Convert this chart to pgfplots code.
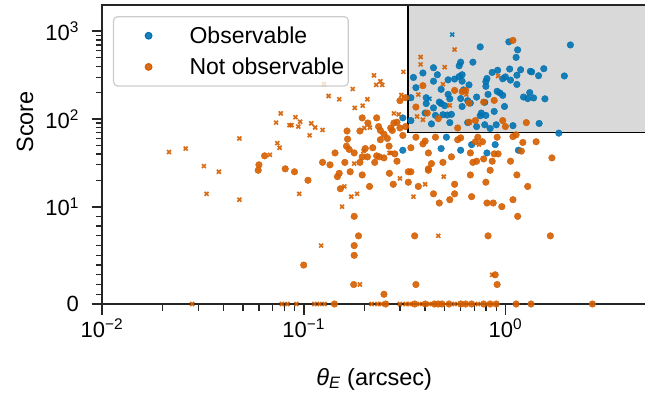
\documentclass[border=0pt]{standalone}
\usepackage{fontspec}
\setmainfont{Liberation Sans}
\usepackage{pgfplots}
\pgfplotsset{compat=1.18}
\definecolor{cbblue}{HTML}{0173B2}
\definecolor{cborange}{HTML}{D55E00}
\definecolor{spine}{HTML}{262626}
\definecolor{boxgray}{HTML}{D9D9D9}
\definecolor{leggray}{HTML}{CCCCCC}
\newcommand{\tp}[1]{10\textsuperscript{#1}}
\begin{document}
\begin{tikzpicture}
\begin{axis}[
  at={(0pt,0pt)}, anchor=south west,
  scale only axis, width=544.4pt, height=299pt,
  xmode=log, xmin=0.01, xmax=5, ymin=0, ymax=2000,
  y coord trafo/.code={\pgfmathparse{#1<=10 ? #1/9 : 1.111111+ln(max(#1,10)/10)/2.302585}},
  ytick={0,10,100,1000}, yticklabels={0,\tp{1},\tp{2},\tp{3}},
  minor ytick={1,2,3,4,5,6,7,8,9,20,30,40,50,60,70,80,90,200,300,400,500,600,700,800,900},
  xtick={0.01,0.1,1}, xticklabels={\tp{−2},\tp{−1},\tp{0}},
  font=\fontsize{23.5}{28}\selectfont,
  tick label style={font=\fontsize{22}{26}\selectfont},
  yticklabel style={xshift=-9pt},
  xticklabel style={yshift=-1pt},
  tick pos=left, tick align=outside,
  major tick length=10.5pt, minor tick length=6.5pt,
  every major tick/.append style={line width=1.8pt, spine},
  every minor tick/.append style={line width=1.3pt, spine},
  axis line style={line width=1.9pt, spine},
  axis on top,
  clip=true,
  xlabel={\textit{θ}\textsubscript{\textit{E}} (arcsec)},
  ylabel={Score},
  xlabel style={at={(rel axis cs:0.5,-0.251)}, anchor=center},
  ylabel style={at={(rel axis cs:-0.1414,0.609)}, anchor=center},
  legend cell align=left,
  legend image code/.code={\path[draw=none,fill=none] (0pt,-6pt) rectangle (72pt,6pt); \draw[#1] plot coordinates {(33pt,0pt)};},
  legend style={at={(0.0202,0.963)}, anchor=north west, draw=leggray, line width=1.2pt,
    rounded corners=4pt, fill=white, fill opacity=0.8, text opacity=1, draw opacity=1,
    inner xsep=2pt, inner ysep=8pt, row sep=9pt,
    font=\fontsize{23}{27}\selectfont},
]
\addplot[fill=boxgray, draw=black, line width=1.6pt, forget plot]
  coordinates {(0.33,70) (20,70) (20,5000) (0.33,5000) (0.33,70)};

\addplot[only marks, mark=*, mark size=3.3pt, color=cbblue, mark options={draw=none, fill=cbblue, fill opacity=0.9}] table {
x y
2.1 700
1.35 345
1.55 375
1.46 312
1.96 310
1.32 200
1.38 174
1.57 170
1.47 89
1.84 69
1.04 760
0.75 665
1.15 615
0.6 445
0.59 405
0.69 445
1.13 505
0.44 385
0.39 335
0.46 320
0.35 298
0.61 320
0.59 305
0.86 340
0.915 360
1.05 372
1.19 365
1.33 350
0.56 286
0.52 280
0.81 290
0.8 267
0.97 288
1.0 302
1.06 278
1.14 316
0.44 270
0.61 270
0.36 228
0.66 245
0.8 236
1.14 248
0.48 218
0.52 191
0.62 215
0.34 175
0.405 175
0.91 207
0.94 198
0.97 186
0.82 191
0.72 178
1.23 178
1.29 171
0.53 170
0.6 171
0.65 162
0.47 156
0.5 142
0.405 150
0.44 134
0.61 139
0.99 139
0.48 150
0.67 152
0.79 155
0.88 122
0.4 117
0.45 110
0.49 112
0.54 113
0.515 111
0.76 117
0.8 110
0.75 109
0.31 103
0.34 96
0.43 88
0.53 91
0.65 91
0.72 82
0.79 86
0.84 78
0.9 86
1.09 84
0.51 62
0.31 44
0.68 51
0.81 41
0.89 51
1.16 44
0.48 46
0.6 44
};
\addlegendentry{Observable}

\addplot[only marks, mark=*, mark size=3.3pt, color=cborange, mark options={draw=none, fill=cborange, fill opacity=0.9}] table {
x y
0.064 38
0.06 30
0.0595 26
0.081 27
0.3 162
0.32 175
0.195 103
0.23 103
0.28 90
0.29 92
0.235 82
0.208 90
0.19 73
0.164 73
0.24 74
0.25 67
0.275 74
0.27 79
0.3 79
0.32 82
0.165 59
0.24 58
0.26 60
0.163 49
0.168 45
0.178 41
0.202 46
0.22 47
0.237 37
0.265 49
0.283 40
0.195 37
0.143 41
0.207 37
0.23 38
0.25 36
0.124 32
0.135 30
0.16 32
0.19 32
0.225 32
0.29 33
0.09 25
0.15 24
0.147 22
0.17 25
0.195 23
0.266 24
0.33 25
0.105 20
0.278 18
0.33 19
0.152 16
0.212 17
0.178 9
0.187 7
0.178 6
0.178 5
0.1 4
0.177 2
0.25 1
0.415 26
0.67 23
0.84 26
1.14 23
0.37 17
0.56 18
0.8 19
1.29 17
0.44 14
0.56 14
0.68 13
0.47 11
0.53 12
0.81 11
0.87 11
0.96 10
1.09 12
1.15 9
0.355 7
0.82 7
0.89 3
0.36 2
0.91 2
1.2 43
1.7 36
1.67 7
1.27 91
1.22 54
1.42 55
1.09 790
0.39 240
0.56 212
0.61 205
0.635 212
0.36 137
0.66 152
0.78 156
0.88 163
0.41 117
0.465 101
0.66 92
0.71 96
0.97 96
1.0 82
0.58 79
0.36 62
0.39 52
0.4 56
0.45 62
0.6 61
0.58 58
0.73 62
0.71 55
0.77 55
0.91 62
1.09 63
1.13 66
0.34 47
0.415 41
0.43 31
0.415 27
0.49 32
0.54 37
0.67 41
0.69 32
0.72 33
0.78 35
0.88 40
0.92 40
0.86 33
1.06 33
0.34 25
0.31 65
0.142 0
0.255 0
0.355 0
0.4 0
0.445 0
0.465 0
0.485 0
0.525 0
0.6 0
0.635 0
0.68 0
0.78 0
0.84 0
0.9 0
1.13 0
1.34 0
2.7 0
};
\addlegendentry{Not observable}

\addplot[only marks, mark=x, mark size=2.8pt, line width=1.7pt, color=cbblue, opacity=0.9, forget plot] table {
x y
0.545 920
0.42 170
};

\addplot[only marks, mark=x, mark size=2.8pt, line width=1.7pt, color=cborange, opacity=0.9, forget plot] table {
x y
0.0215 42
0.026 46
0.048 60
0.077 116
0.073 91
0.085 85
0.074 53
0.076 47
0.068 39
0.032 29
0.038 25
0.033 14
0.048 12
0.126 250
0.175 220
0.133 183
0.15 168
0.207 168
0.196 142
0.179 134
0.223 315
0.24 270
0.229 245
0.245 245
0.312 345
0.091 105
0.096 93
0.087 85
0.094 82
0.109 89
0.114 80
0.124 75
0.107 65
0.28 116
0.296 113
0.213 80
0.2 79
0.27 41
0.198 43
0.266 41
0.178 31
0.3 21
0.159 17
0.095 14
0.184 14
0.172 13
0.155 10
0.122 6
0.19 2
0.495 22
0.4 18
0.35 13
0.465 7
0.86 3
0.56 620
0.38 510
0.38 420
0.5 390
0.92 310
0.49 250
0.64 190
0.37 190
0.53 143
0.305 188
0.365 107
0.39 98
0.74 51
0.028 0
0.078 0
0.083 0
0.092 0
0.113 0
0.12 0
0.127 0
0.217 0
0.232 0
0.243 0
0.3 0
0.32 0
0.335 0
0.375 0
0.42 0
0.56 0
0.73 0
};
\end{axis}
\pgfresetboundingbox
\path[use as bounding box] (-102pt,-100pt) rectangle (543pt,304pt);
\end{tikzpicture}
\end{document}
